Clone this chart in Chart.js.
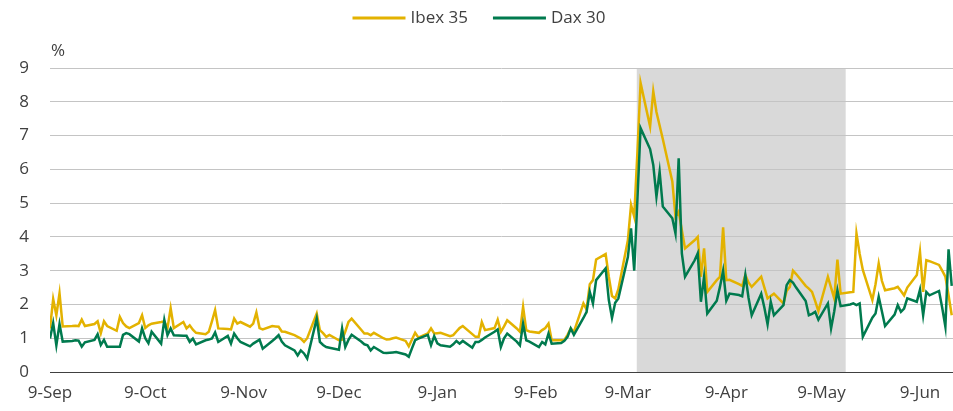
<!DOCTYPE html>
<html>
<head>
<meta charset="utf-8">
<script src="https://cdn.jsdelivr.net/npm/chart.js@4.4.1/dist/chart.umd.min.js"></script>
<style>
html,body{margin:0;padding:0;background:#ffffff;}
#wrap{width:953px;height:411px;}
</style>
</head>
<body>
<div id="wrap"><canvas id="c" width="953" height="411"></canvas></div>
<script>
// ---- data ----
const seriesNames = ['Ibex 35', 'Dax 30'];
// x axis: calendar days counted from 9-Sep-2019; ticks on the 9th of each month
const tickDays   = [0, 30, 61, 91, 122, 153, 182, 213, 243, 274];
const tickLabels = ['9-Sep', '9-Oct', '9-Nov', '9-Dec', '9-Jan', '9-Feb', '9-Mar', '9-Apr', '9-May', '9-Jun'];
const lastDay = 284.4;
const tradingWeeks = 41;            // Mon 9-Sep-2019 .. Fri 19-Jun-2020
const shadedPeriod = [184.8, 250.6]; // grey band (days)
const yTicks = [0, 1, 2, 3, 4, 5, 6, 7, 8, 9];

// daily values, one row per trading week (Mon..Fri), in %
const ibex = [
  1.29,2.16,1.68,2.33,1.35,
  1.36,1.37,1.36,1.55,1.36,
  1.42,1.50,1.15,1.50,1.36,
  1.22,1.63,1.45,1.35,1.30,
  1.45,1.68,1.30,1.38,1.43,
  1.48,1.50,1.30,1.89,1.30,
  1.48,1.29,1.38,1.25,1.16,
  1.12,1.19,1.50,1.83,1.29,
  1.27,1.26,1.58,1.43,1.48,
  1.34,1.43,1.76,1.30,1.26,
  1.36,1.35,1.34,1.20,1.19,
  1.09,1.04,0.99,0.89,1.00,
  1.73,1.24,1.15,1.04,1.10,
  0.94,0.96,1.20,1.48,1.58,
  1.25,1.14,1.14,1.09,1.16,
  1.00,0.96,0.97,1.00,1.02,
  0.92,0.76,0.96,1.16,1.02,
  1.14,1.29,1.14,1.15,1.16,
  1.06,1.09,1.20,1.30,1.36,
  1.12,1.04,1.04,1.48,1.24,
  1.30,1.55,1.19,1.35,1.53,
  1.29,1.19,1.93,1.24,1.20,
  1.16,1.24,1.30,1.43,0.94,
  0.94,0.95,1.10,1.29,1.19,
  2.03,1.85,2.60,2.72,3.33,
  3.49,2.82,2.25,2.18,2.45,
  3.90,4.95,4.60,6.50,8.56,
  7.27,8.31,7.70,7.30,6.90,
  5.64,4.60,4.75,4.20,3.66,
  3.90,4.00,2.82,3.66,2.37,
  2.72,2.82,4.28,2.72,2.73,
  2.60,2.55,2.87,2.65,2.52,
  2.82,2.50,2.18,2.25,2.32,
  2.03,2.40,2.52,3.00,2.90,
  2.55,2.47,2.37,2.10,1.80,
  2.82,2.50,2.18,3.33,2.32,
  2.36,2.37,4.10,3.50,3.02,
  2.13,2.60,3.21,2.70,2.42,
  2.48,2.52,2.40,2.27,2.50,
  2.87,3.56,2.37,3.31,3.28,
  3.17,3.00,2.82,2.27,1.68
];
const dax = [
  0.99,1.45,0.79,1.42,0.90,
  0.92,0.94,0.93,0.75,0.88,
  0.95,1.12,0.80,0.95,0.75,
  0.75,0.75,1.10,1.15,1.12,
  0.90,1.29,1.00,0.85,1.19,
  0.84,1.54,1.09,1.29,1.09,
  1.07,1.07,0.89,0.99,0.82,
  0.94,0.96,0.99,1.17,0.89,
  1.07,0.84,1.14,1.00,0.89,
  0.76,0.84,0.90,0.96,0.69,
  0.92,1.00,1.09,0.90,0.79,
  0.64,0.49,0.64,0.55,0.40,
  1.58,0.89,0.80,0.74,0.72,
  0.66,1.29,0.74,0.95,1.10,
  0.90,0.82,0.79,0.64,0.74,
  0.57,0.56,0.57,0.58,0.59,
  0.52,0.45,0.70,0.94,0.99,
  1.10,0.79,1.06,0.85,0.79,
  0.75,0.82,0.92,0.84,0.92,
  0.72,0.89,0.89,0.95,1.02,
  1.19,1.26,0.74,1.00,1.14,
  0.90,0.79,1.43,0.94,0.90,
  0.74,0.89,0.82,1.14,0.84,
  0.86,0.92,1.04,1.29,1.10,
  1.60,1.78,2.37,2.03,2.72,
  3.07,2.13,1.60,2.05,2.18,
  3.40,4.25,3.00,5.10,7.22,
  6.60,6.13,5.19,5.93,4.90,
  4.55,4.10,6.33,3.51,2.82,
  3.30,3.51,2.08,2.82,1.73,
  2.11,2.52,3.00,2.11,2.32,
  2.28,2.24,2.87,2.20,1.68,
  2.32,1.90,1.41,2.08,1.68,
  1.98,2.57,2.72,2.65,2.50,
  2.10,1.68,1.72,1.78,1.55,
  2.03,1.29,1.80,2.42,1.95,
  2.00,2.03,1.98,2.03,1.04,
  1.61,1.73,2.23,1.80,1.36,
  1.70,1.98,1.78,1.88,2.18,
  2.08,2.44,1.68,2.37,2.27,
  2.40,1.90,1.34,3.63,2.55
];

// ---- build x values (trading days, weekends skipped) ----
const tradingDays = [];
for (let w = 0; w < tradingWeeks; w++) {
  for (let d = 0; d < 5; d++) tradingDays.push(7 * w + d);
}
const toPoints = (vals) => vals.map((v, i) => ({ x: tradingDays[i], y: v }));

const COLORS = { ibex: '#E3B200', dax: '#007A4E', text: '#404040', grid: '#C4C4C4', shade: '#D9D9D9' };
const FONT = '"Open Sans", "DejaVu Sans", sans-serif';

const shadePlugin = {
  id: 'shade',
  beforeDraw(chart) {
    const { ctx, scales: { x, y } } = chart;
    ctx.save();
    ctx.fillStyle = '#ffffff';
    ctx.fillRect(0, 0, chart.width, chart.height);
    const x1 = x.getPixelForValue(shadedPeriod[0]);
    const x2 = x.getPixelForValue(shadedPeriod[1]);
    const y1 = y.getPixelForValue(yTicks[yTicks.length - 1]);
    const y2 = y.getPixelForValue(yTicks[0]);
    ctx.fillStyle = COLORS.shade;
    ctx.fillRect(x1, y1, x2 - x1, y2 - y1);
    ctx.restore();
  }
};

const overlayPlugin = {
  id: 'overlay',
  afterDraw(chart) {
    const { ctx, chartArea } = chart;
    ctx.save();
    ctx.font = '17px ' + FONT;
    ctx.fillStyle = COLORS.text;
    ctx.textBaseline = 'alphabetic';
    ctx.textAlign = 'left';
    ctx.fillText('%', chartArea.left + 1, 56);

    // legend
    const items = [
      { label: seriesNames[0], color: COLORS.ibex },
      { label: seriesNames[1], color: COLORS.dax }
    ];
    const lineW = 53, gapText = 5, gapItem = 25, ly = 18;
    const widths = items.map(it => lineW + gapText + ctx.measureText(it.label).width);
    const total = widths.reduce((a, b) => a + b, 0) + gapItem * (items.length - 1);
    let x = 479 - total / 2;
    ctx.textBaseline = 'middle';
    items.forEach((it, i) => {
      ctx.strokeStyle = it.color;
      ctx.lineWidth = 3;
      ctx.beginPath();
      ctx.moveTo(x, ly);
      ctx.lineTo(x + lineW, ly);
      ctx.stroke();
      ctx.fillStyle = COLORS.text;
      ctx.fillText(it.label, x + lineW + gapText, ly);
      x += widths[i] + gapItem;
    });
    ctx.restore();
  }
};

new Chart(document.getElementById('c'), {
  type: 'line',
  data: {
    datasets: [
      { label: seriesNames[0], data: toPoints(ibex), borderColor: COLORS.ibex, backgroundColor: COLORS.ibex,
        borderWidth: 2.5, pointRadius: 0, tension: 0, fill: false, order: 1 },
      { label: seriesNames[1], data: toPoints(dax), borderColor: COLORS.dax, backgroundColor: COLORS.dax,
        borderWidth: 2.5, pointRadius: 0, tension: 0, fill: false, order: 0 }
    ]
  },
  options: {
    responsive: false,
    animation: false,
    devicePixelRatio: 1,
    layout: { padding: { top: 68, right: 0, bottom: 0, left: 0 } },
    plugins: { legend: { display: false }, tooltip: { enabled: false }, title: { display: false } },
    scales: {
      x: {
        type: 'linear',
        min: 0,
        max: lastDay,
        afterBuildTicks: (s) => { s.ticks = tickDays.map(v => ({ value: v })); },
        afterFit: (s) => { s.height = 39; },
        ticks: {
          autoSkip: false, maxRotation: 0, minRotation: 0, padding: 11,
          color: COLORS.text, font: { family: FONT, size: 17 },
          callback: (v) => { const i = tickDays.indexOf(v); return i >= 0 ? tickLabels[i] : ''; }
        },
        grid: { display: false, drawTicks: false },
        border: { display: true, color: '#404040', width: 1 }
      },
      y: {
        min: yTicks[0],
        max: yTicks[yTicks.length - 1],
        afterBuildTicks: (s) => { s.ticks = yTicks.map(v => ({ value: v })); },
        afterFit: (s) => { s.width = 50; },
        ticks: { padding: 21, color: COLORS.text, font: { family: FONT, size: 17 } },
        grid: { drawTicks: false, lineWidth: 1,
                color: (c) => (c.tick && c.tick.value === 0) ? 'rgba(0,0,0,0)' : COLORS.grid },
        border: { display: false }
      }
    }
  },
  plugins: [shadePlugin, overlayPlugin]
});
</script>
</body>
</html>
